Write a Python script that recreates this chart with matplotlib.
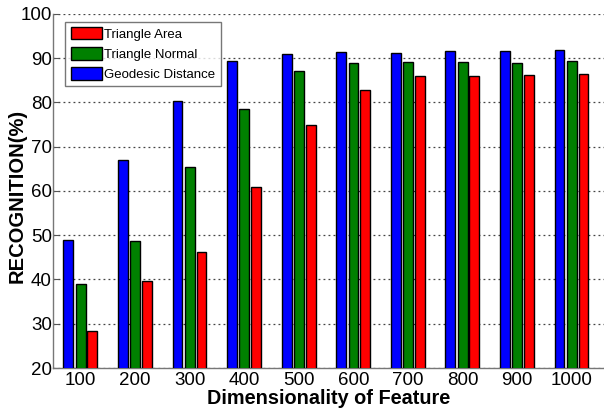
import numpy as np
import matplotlib
matplotlib.use('Agg')
import matplotlib.pyplot as plt

plt.rcParams['font.family'] = ['Liberation Sans', 'DejaVu Sans']

dims = ['100', '200', '300', '400', '500', '600', '700', '800', '900', '1000']
geodesic = [48.9, 66.9, 80.4, 89.4, 91.0, 91.3, 91.1, 91.6, 91.7, 91.9]
normal = [38.9, 48.8, 65.5, 78.5, 87.2, 88.8, 89.1, 89.2, 88.9, 89.4]
area = [28.4, 39.7, 46.1, 60.8, 74.9, 82.8, 85.9, 86.0, 86.1, 86.5]

fig = plt.figure(figsize=(6.04, 4.08), dpi=100)
ax = fig.add_axes([0.088, 0.098, 0.912, 0.868])

x = np.arange(1, len(dims) + 1)
w = 0.18
kw = dict(edgecolor='black', linewidth=1.0, zorder=3)
b_geo = ax.bar(x - 0.225, geodesic, w, color='#0000ff', **kw)
b_nor = ax.bar(x, normal, w, color='#008000', **kw)
b_are = ax.bar(x + 0.215, area, w, color='#ff0000', **kw)

ax.set_xlim(0.496, 10.59)
ax.set_ylim(20, 100)
ax.set_yticks(range(20, 101, 10))
ax.set_xticks(x)
ax.set_xticklabels(dims)
ax.tick_params(axis='both', direction='in', labelsize=13.5, length=4,
               color='#555555', pad=1)
ax.tick_params(axis='x', length=0, pad=3)

ax.yaxis.grid(True, linestyle=(0, (1.5, 2.5)), color='#444444', linewidth=0.9)
ax.set_axisbelow(True)
for s in ['top', 'right']:
    ax.spines[s].set_visible(False)
for s in ['left', 'bottom']:
    ax.spines[s].set_color('#777777')
    ax.spines[s].set_linewidth(1.0)

ax.set_xlabel('Dimensionality of Feature', fontsize=14.3, fontweight='bold',
              labelpad=0)
ax.set_ylabel('RECOGNITION(%)', fontsize=14.5, fontweight='bold')
ax.yaxis.set_label_coords(-0.048, 0.485)

leg = ax.legend([b_are, b_nor, b_geo],
                ['Triangle Area', 'Triangle Normal', 'Geodesic Distance'],
                loc='upper left', bbox_to_anchor=(0.022, 0.978),
                fontsize=9.5, frameon=True, fancybox=False,
                handlelength=2.35, handleheight=1.06, handletextpad=0.2,
                labelspacing=0.5, borderpad=0.4, borderaxespad=0)
leg.get_frame().set_edgecolor('#555555')
leg.get_frame().set_linewidth(1.0)

fig.savefig('out.png', dpi=100)
